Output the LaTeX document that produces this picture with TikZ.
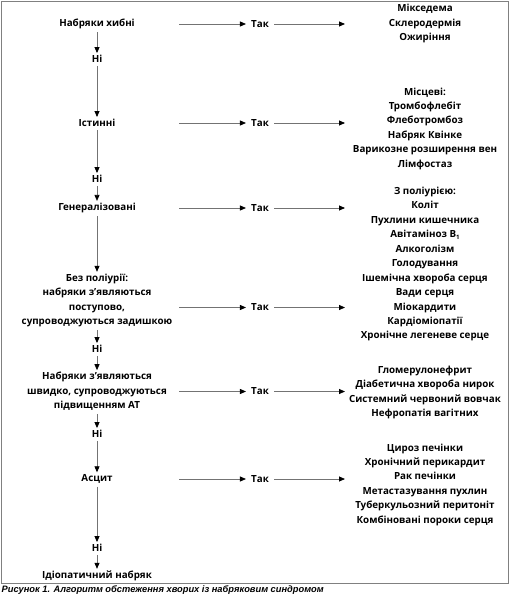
\documentclass[tikz,border=0pt]{standalone}
\usepackage{fontspec}
\setmainfont{Open Sans}
\newfontfamily\capfont{Liberation Sans}
\usetikzlibrary{arrows.meta}
\newcommand{\subone}{\raisebox{-0.25ex}{\fontsize{6}{6}\selectfont 1}}
\begin{document}
\begin{tikzpicture}[x=1pt,y=-1pt,
  txt/.style={font=\fontsize{9.8}{14.4}\selectfont\bfseries, align=center, inner sep=0pt},
  arr/.style={draw=black!55, line width=0.8pt, -{Triangle[length=6pt,width=5pt,color=black]}},
  varr/.style={arr, shorten <=3pt, shorten >=2pt},
  harr/.style={arr}]
\useasboundingbox (0,0) rectangle (510,596);
\draw[black!50, line width=1.3pt] (1.5,1.5) rectangle (508.8,583.5);

% left column
\node[txt] (L1) at (97,24) {Набряки хибні};
\node[txt] (N1) at (97,59) {Ні};
\node[txt] (L2) at (97,123) {Істинні};
\node[txt] (N2) at (97,179) {Ні};
\node[txt] (L3) at (97,208) {Генералізовані};
\node[txt] (L4) at (97,300.5) {Без поліурії:\\набряки з’являються\\поступово,\\супроводжуються задишкою};
\node[txt] (N3) at (97,349) {Ні};
\node[txt] (L5) at (97,391.5) {Набряки з’являються\\швидко, супроводжуються\\підвищенням АТ};
\node[txt] (N4) at (97,434) {Ні};
\node[txt] (L6) at (97,479) {Асцит};
\node[txt] (N5) at (97,548) {Ні};
\node[txt] (L7) at (97,576) {Ідіопатичний набряк};

\draw[varr] (L1) -- (N1);
\draw[varr] (N1) -- (L2);
\draw[varr] (L2) -- (N2);
\draw[varr] (N2) -- (L3);
\draw[varr] (L3) -- (L4);
\draw[varr] (L4) -- (N3);
\draw[varr] (N3) -- (L5);
\draw[varr] (L5) -- (N4);
\draw[varr] (N4) -- (L6);
\draw[varr] (L6) -- (N5);
\draw[varr] (N5) -- (L7);

% yes column
\foreach \i/\y in {1/24,2/123,3/208,4/307.5,5/391.5,6/479}{
  \coordinate (S\i) at (179,\y);
  \node[txt, inner xsep=5pt] (T\i) at (260,\y) {Так};
  \coordinate (E\i) at (345,\y);
  \draw[harr] (S\i) -- (T\i);
  \draw[harr] (T\i) -- (E\i);
}

% right column
\node[txt] (R1) at (425,23.5) {Мікседема\\Склеродермія\\Ожиріння};
\node[txt] (R2) at (425,128.5) {Місцеві:\\Тромбофлебіт\\Флеботромбоз\\Набряк Квінке\\Варикозне розширення вен\\Лімфостаз};
\node[txt] (R3) at (425,228) {З поліурією:\\Коліт\\Пухлини кишечника\\Авітаміноз В\subone\\Алкоголізм\\Голодування};
\node[txt] (R4) at (425,307.5) {Ішемічна хвороба серця\\Вади серця\\Міокардити\\Кардіоміопатії\\Хронічне легеневе серце};
\node[txt] (R5) at (425,392.5) {Гломерулонефрит\\Діабетична хвороба нирок\\Системний червоний вовчак\\Нефропатія вагітних};
\node[txt] (R6) at (425,484.5) {Цироз печінки\\Хронічний перикардит\\Рак печінки\\Метастазування пухлин\\Туберкульозний перитоніт\\Комбіновані пороки серця};

% caption
\node[anchor=west, inner sep=0pt, font=\capfont\fontsize{9.3}{10}\selectfont\bfseries\itshape] (cap) at (1.5,590.5) {Рисунок 1. Алгоритм обстеження хворих із набряковим синдромом};
\end{tikzpicture}
\end{document}
